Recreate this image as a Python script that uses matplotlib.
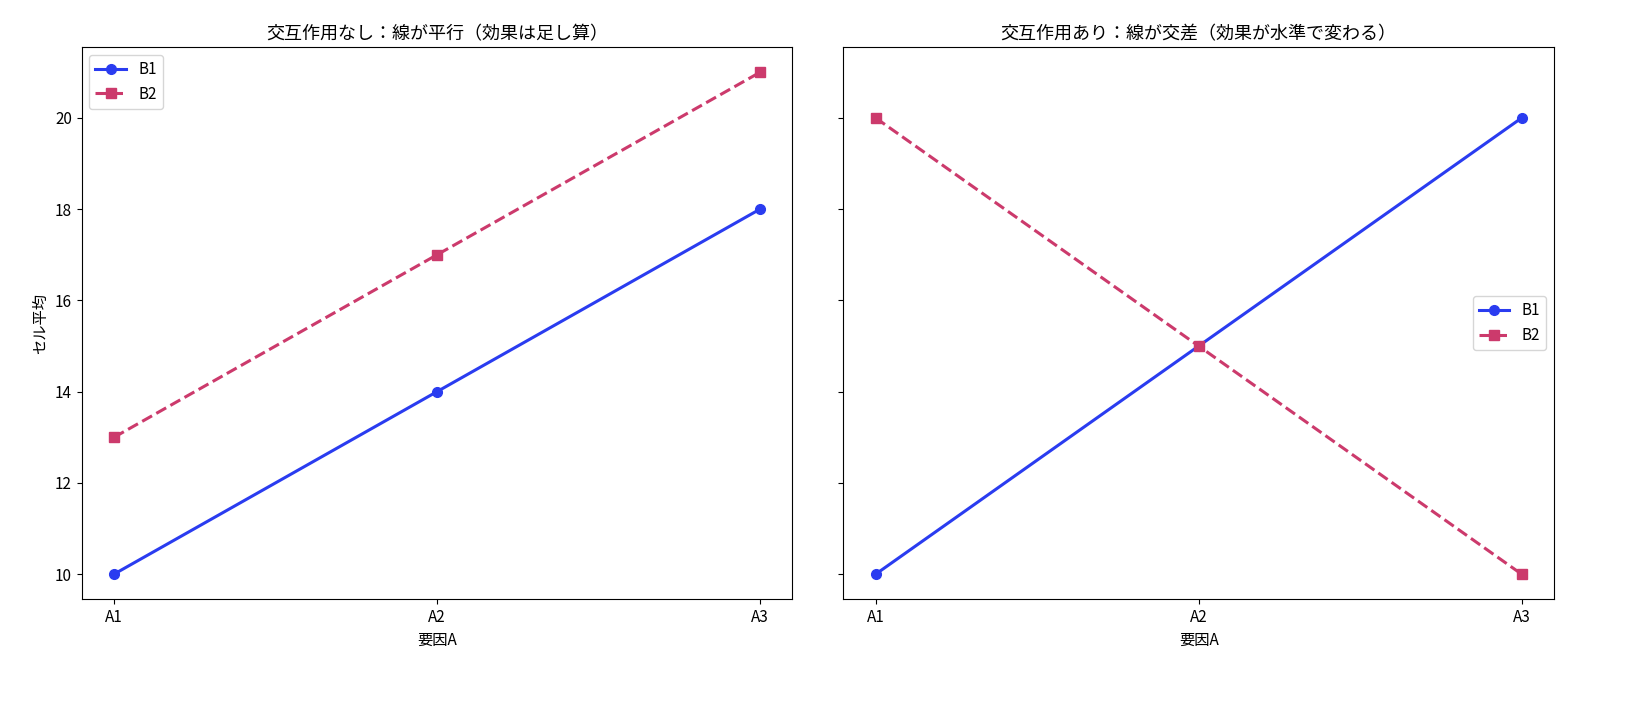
import matplotlib
matplotlib.use("Agg")
import matplotlib.pyplot as plt

plt.rcParams["font.family"] = ["Noto Sans CJK JP", "DejaVu Sans"]

levels_a = ["A1", "A2", "A3"]
left_b1 = [10, 14, 18]
left_b2 = [13, 17, 21]
right_b1 = [10, 15, 20]
right_b2 = [20, 15, 10]

blue = "#2a3cf0"
pink = "#cc3a6c"

fig, axes = plt.subplots(1, 2, figsize=(16.34, 7.05), dpi=100, sharey=True)
fig.subplots_adjust(left=0.05, right=0.951, top=0.933, bottom=0.15, wspace=0.072)

panels = [
    (axes[0], left_b1, left_b2, "交互作用なし：線が平行（効果は足し算）", "upper left"),
    (axes[1], right_b1, right_b2, "交互作用あり：線が交差（効果が水準で変わる）", "center right"),
]
for ax, b1, b2, title, loc in panels:
    ax.plot(levels_a, b1, "-o", color=blue, lw=2.2, ms=7, label="B1")
    ax.plot(levels_a, b2, "--s", color=pink, lw=2.2, ms=7, label="B2")
    ax.set_title(title, fontsize=13)
    ax.set_xlabel("要因A", fontsize=11)
    ax.legend(loc=loc, fontsize=11)
    ax.tick_params(labelsize=11)

axes[0].set_ylabel("セル平均", fontsize=11)
axes[0].set_yticks([10, 12, 14, 16, 18, 20])

fig.savefig("out.png")
